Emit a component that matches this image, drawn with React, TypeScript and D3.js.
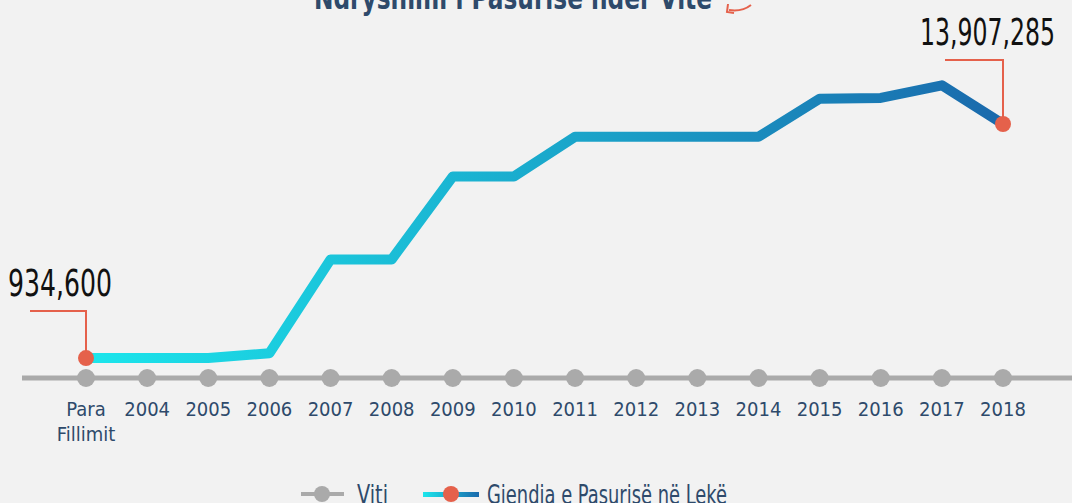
import React from "react";
import * as d3 from "d3";

const categories = ["Para Fillimit", "2004", "2005", "2006", "2007", "2008", "2009", "2010", "2011", "2012", "2013", "2014", "2015", "2016", "2017", "2018"];
const wealthValues = [934600, 934600, 934600, 1200000, 6400000, 6400000, 11000000, 11000000, 13200000, 13200000, 13200000, 13200000, 15300000, 15350000, 16050000, 13907285];
const titleText = "Ndryshimi i Pasurisë ndër Vite";
const legendLabels = ["Viti", "Gjendia e Pasurisë në Lekë"];
const firstLabel = "934,600";
const lastLabel = "13,907,285";

const W = 1072;
const H = 503;
const FONT = "'Liberation Sans Narrow', 'DejaVu Sans Condensed', 'Roboto', sans-serif";
const NAVY = "#2e4a6b";
const RED = "#e5614b";
const GRAY = "#aaaaaa";

export default function App() {
  const x = d3.scalePoint<string>().domain(categories).range([86, 1003]);
  const y = d3.scaleLinear().domain([0, 17000000]).range([374.9, 68.2]);
  const axisY = 378;

  const pts: [number, number][] = categories.map((c, i) => [x(c) as number, y(wealthValues[i])]);
  const line = d3.line<[number, number]>().x((d) => d[0]).y((d) => d[1]);

  const first = pts[0];
  const last = pts[pts.length - 1];

  return (
    <svg width={W} height={H} style={{ position: "absolute", left: 0, top: 0, background: "#f2f2f2" }}>
      <defs>
        <linearGradient id="lineGrad" gradientUnits="userSpaceOnUse" x1={86} y1={0} x2={1003} y2={0}>
          <stop offset="0%" stopColor="#1ce6ec" />
          <stop offset="50%" stopColor="#1aa9cc" />
          <stop offset="100%" stopColor="#1a69ac" />
        </linearGradient>
        <linearGradient id="legGrad" gradientUnits="objectBoundingBox" x1="0" y1="0" x2="1" y2="0">
          <stop offset="0%" stopColor="#1ce6ec" />
          <stop offset="100%" stopColor="#1a69ac" />
        </linearGradient>
      </defs>
      <rect x={0} y={0} width={W} height={H} fill="#f2f2f2" />

      {/* title */}
      <text x={513} y={9} textAnchor="middle" fontFamily={FONT} fontWeight="bold" fontSize={32} fill={NAVY} textLength={398} lengthAdjust="spacingAndGlyphs">
        {titleText}
      </text>
      <path d="M751,5 Q742,12 729,10" fill="none" stroke={RED} strokeWidth={2} />
      <path d="M728,4 L727,12 L734,13" fill="none" stroke={RED} strokeWidth={2} />

      {/* axis line */}
      <line x1={22} x2={W} y1={axisY} y2={axisY} stroke={GRAY} strokeWidth={5} />
      {categories.map((c) => (
        <circle key={c} cx={x(c) as number} cy={axisY} r={9} fill={GRAY} />
      ))}
      {categories.map((c) => {
        const cx = x(c) as number;
        const parts = c.split(" ");
        return (
          <text key={"t" + c} x={cx} y={416} textAnchor="middle" fontFamily={FONT} fontSize={20} fill={NAVY}>
            {parts.map((p, i) => (
              <tspan key={p} x={cx} dy={i === 0 ? 0 : 25}>{p}</tspan>
            ))}
          </text>
        );
      })}

      {/* data line */}
      <path d={line(pts) || ""} fill="none" stroke="url(#lineGrad)" strokeWidth={10} strokeLinejoin="round" />

      {/* callouts */}
      <polyline points={`30,311 ${first[0]},311 ${first[0]},${first[1]}`} fill="none" stroke={RED} strokeWidth={2} />
      <circle cx={first[0]} cy={first[1]} r={8} fill={RED} />
      <text x={8} y={296} fontFamily={FONT} fontSize={38} fill="#111" textLength={104} lengthAdjust="spacingAndGlyphs">{firstLabel}</text>

      <polyline points={`945,60 ${last[0]},60 ${last[0]},${last[1]}`} fill="none" stroke={RED} strokeWidth={2} />
      <circle cx={last[0]} cy={last[1]} r={8} fill={RED} />
      <text x={920} y={45} fontFamily={FONT} fontSize={38} fill="#111" textLength={135} lengthAdjust="spacingAndGlyphs">{lastLabel}</text>

      {/* legend */}
      <line x1={301} x2={344} y1={494} y2={494} stroke={GRAY} strokeWidth={4} />
      <circle cx={322} cy={494} r={8} fill={GRAY} />
      <text x={357} y={504} fontFamily={FONT} fontSize={26} fill={NAVY} textLength={31} lengthAdjust="spacingAndGlyphs">{legendLabels[0]}</text>

      <rect x={423} y={492} width={56} height={5} fill="url(#legGrad)" />
      <circle cx={451} cy={494} r={8} fill={RED} />
      <text x={487} y={504} fontFamily={FONT} fontSize={26} fill={NAVY} textLength={240} lengthAdjust="spacingAndGlyphs">{legendLabels[1]}</text>
    </svg>
  );
}
